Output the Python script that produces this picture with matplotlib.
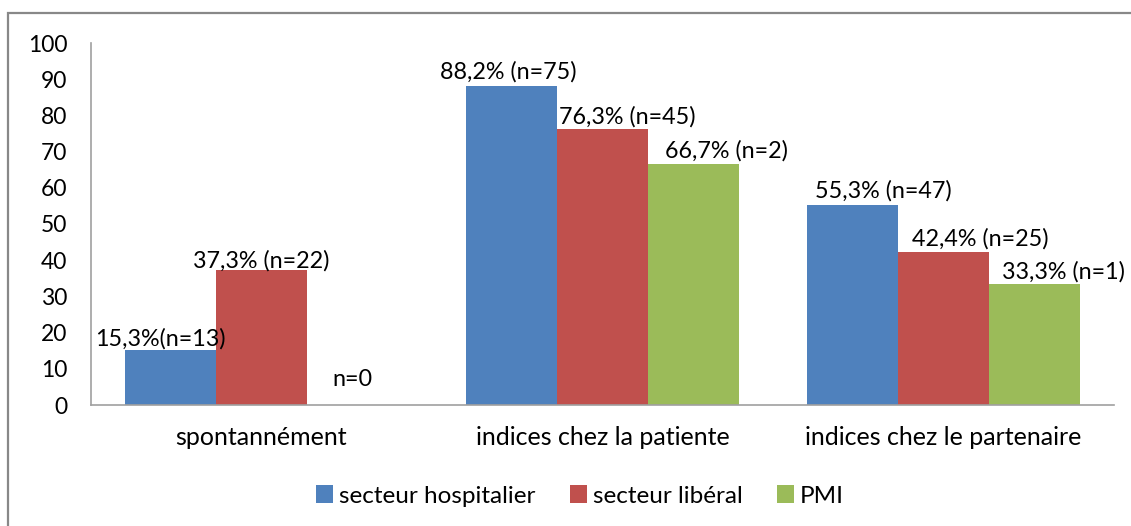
import matplotlib
matplotlib.use('Agg')
import matplotlib.pyplot as plt
import numpy as np
from matplotlib.patches import Rectangle

# data
categories = ['spontannément', 'indices chez la patiente', 'indices chez le partenaire']
series = ['secteur hospitalier', 'secteur libéral', 'PMI']
hospitalier = [15.3, 88.2, 55.3]
liberal = [37.3, 76.3, 42.4]
pmi = [0, 66.7, 33.3]
labels_hosp = ['15,3%(n=13)', '88,2% (n=75)', '55,3% (n=47)']
labels_lib = ['37,3% (n=22)', '76,3% (n=45)', '42,4% (n=25)']
labels_pmi = ['n=0', '66,7% (n=2)', '33,3% (n=1)']
yticks = [0, 10, 20, 30, 40, 50, 60, 70, 80, 90, 100]

colors = ['#4F81BD', '#C0504D', '#9BBB59']
# label nudges in pixels (dx, dy above bar top)
nudges = [
    [(-10, 4), (-3, 7), (31, 7)],
    [(0, 2), (25, 5), (37, 6)],
    [(0, 19), (33, 6), (29, 6)],
]

plt.rcParams['font.family'] = ['Lato', 'DejaVu Sans']

fig = plt.figure(figsize=(11.31, 5.26), dpi=100)
ax = fig.add_axes([91/1131, 1-405/526, (1114-91)/1131, (405-43)/526])

x = np.arange(len(categories))
w = 0.267
vals = [hospitalier, liberal, pmi]
labs = [labels_hosp, labels_lib, labels_pmi]
for i in range(3):
    xs = x + (i-1)*w
    ax.bar(xs, vals[i], width=w, color=colors[i], label=series[i])
    for j in range(3):
        dx, dy = nudges[i][j]
        ax.annotate(labs[i][j], (xs[j], vals[i][j]), xytext=(dx*0.72, dy*0.72),
                    textcoords='offset points', ha='center', va='baseline',
                    fontsize=16.8, color='#000000')

ax.set_xlim(-0.5, 2.5)
ax.set_ylim(0, 100)
ax.set_yticks(yticks)
ax.set_xticks(x)
ax.set_xticklabels(categories)
ax.tick_params(axis='both', length=0)
ax.tick_params(axis='y', pad=17, labelsize=16.5)
ax.tick_params(axis='x', pad=15, labelsize=18)
for s in ['top', 'right']:
    ax.spines[s].set_visible(False)
for s in ['left', 'bottom']:
    ax.spines[s].set_color('#a0a0a0')
    ax.spines[s].set_linewidth(1.2)

fig.legend(loc='center', bbox_to_anchor=(580/1131, 1-496/526), ncol=3, frameon=False,
           fontsize=17.5, handlelength=0.7, handleheight=0.7, handletextpad=0.25,
           columnspacing=1.4)

fig.add_artist(Rectangle((8/1131, -0.1), 1.2, 1.1-13/526, transform=fig.transFigure,
                         fill=False, edgecolor='#888888', linewidth=1.6))

fig.savefig('out.png', dpi=100)
